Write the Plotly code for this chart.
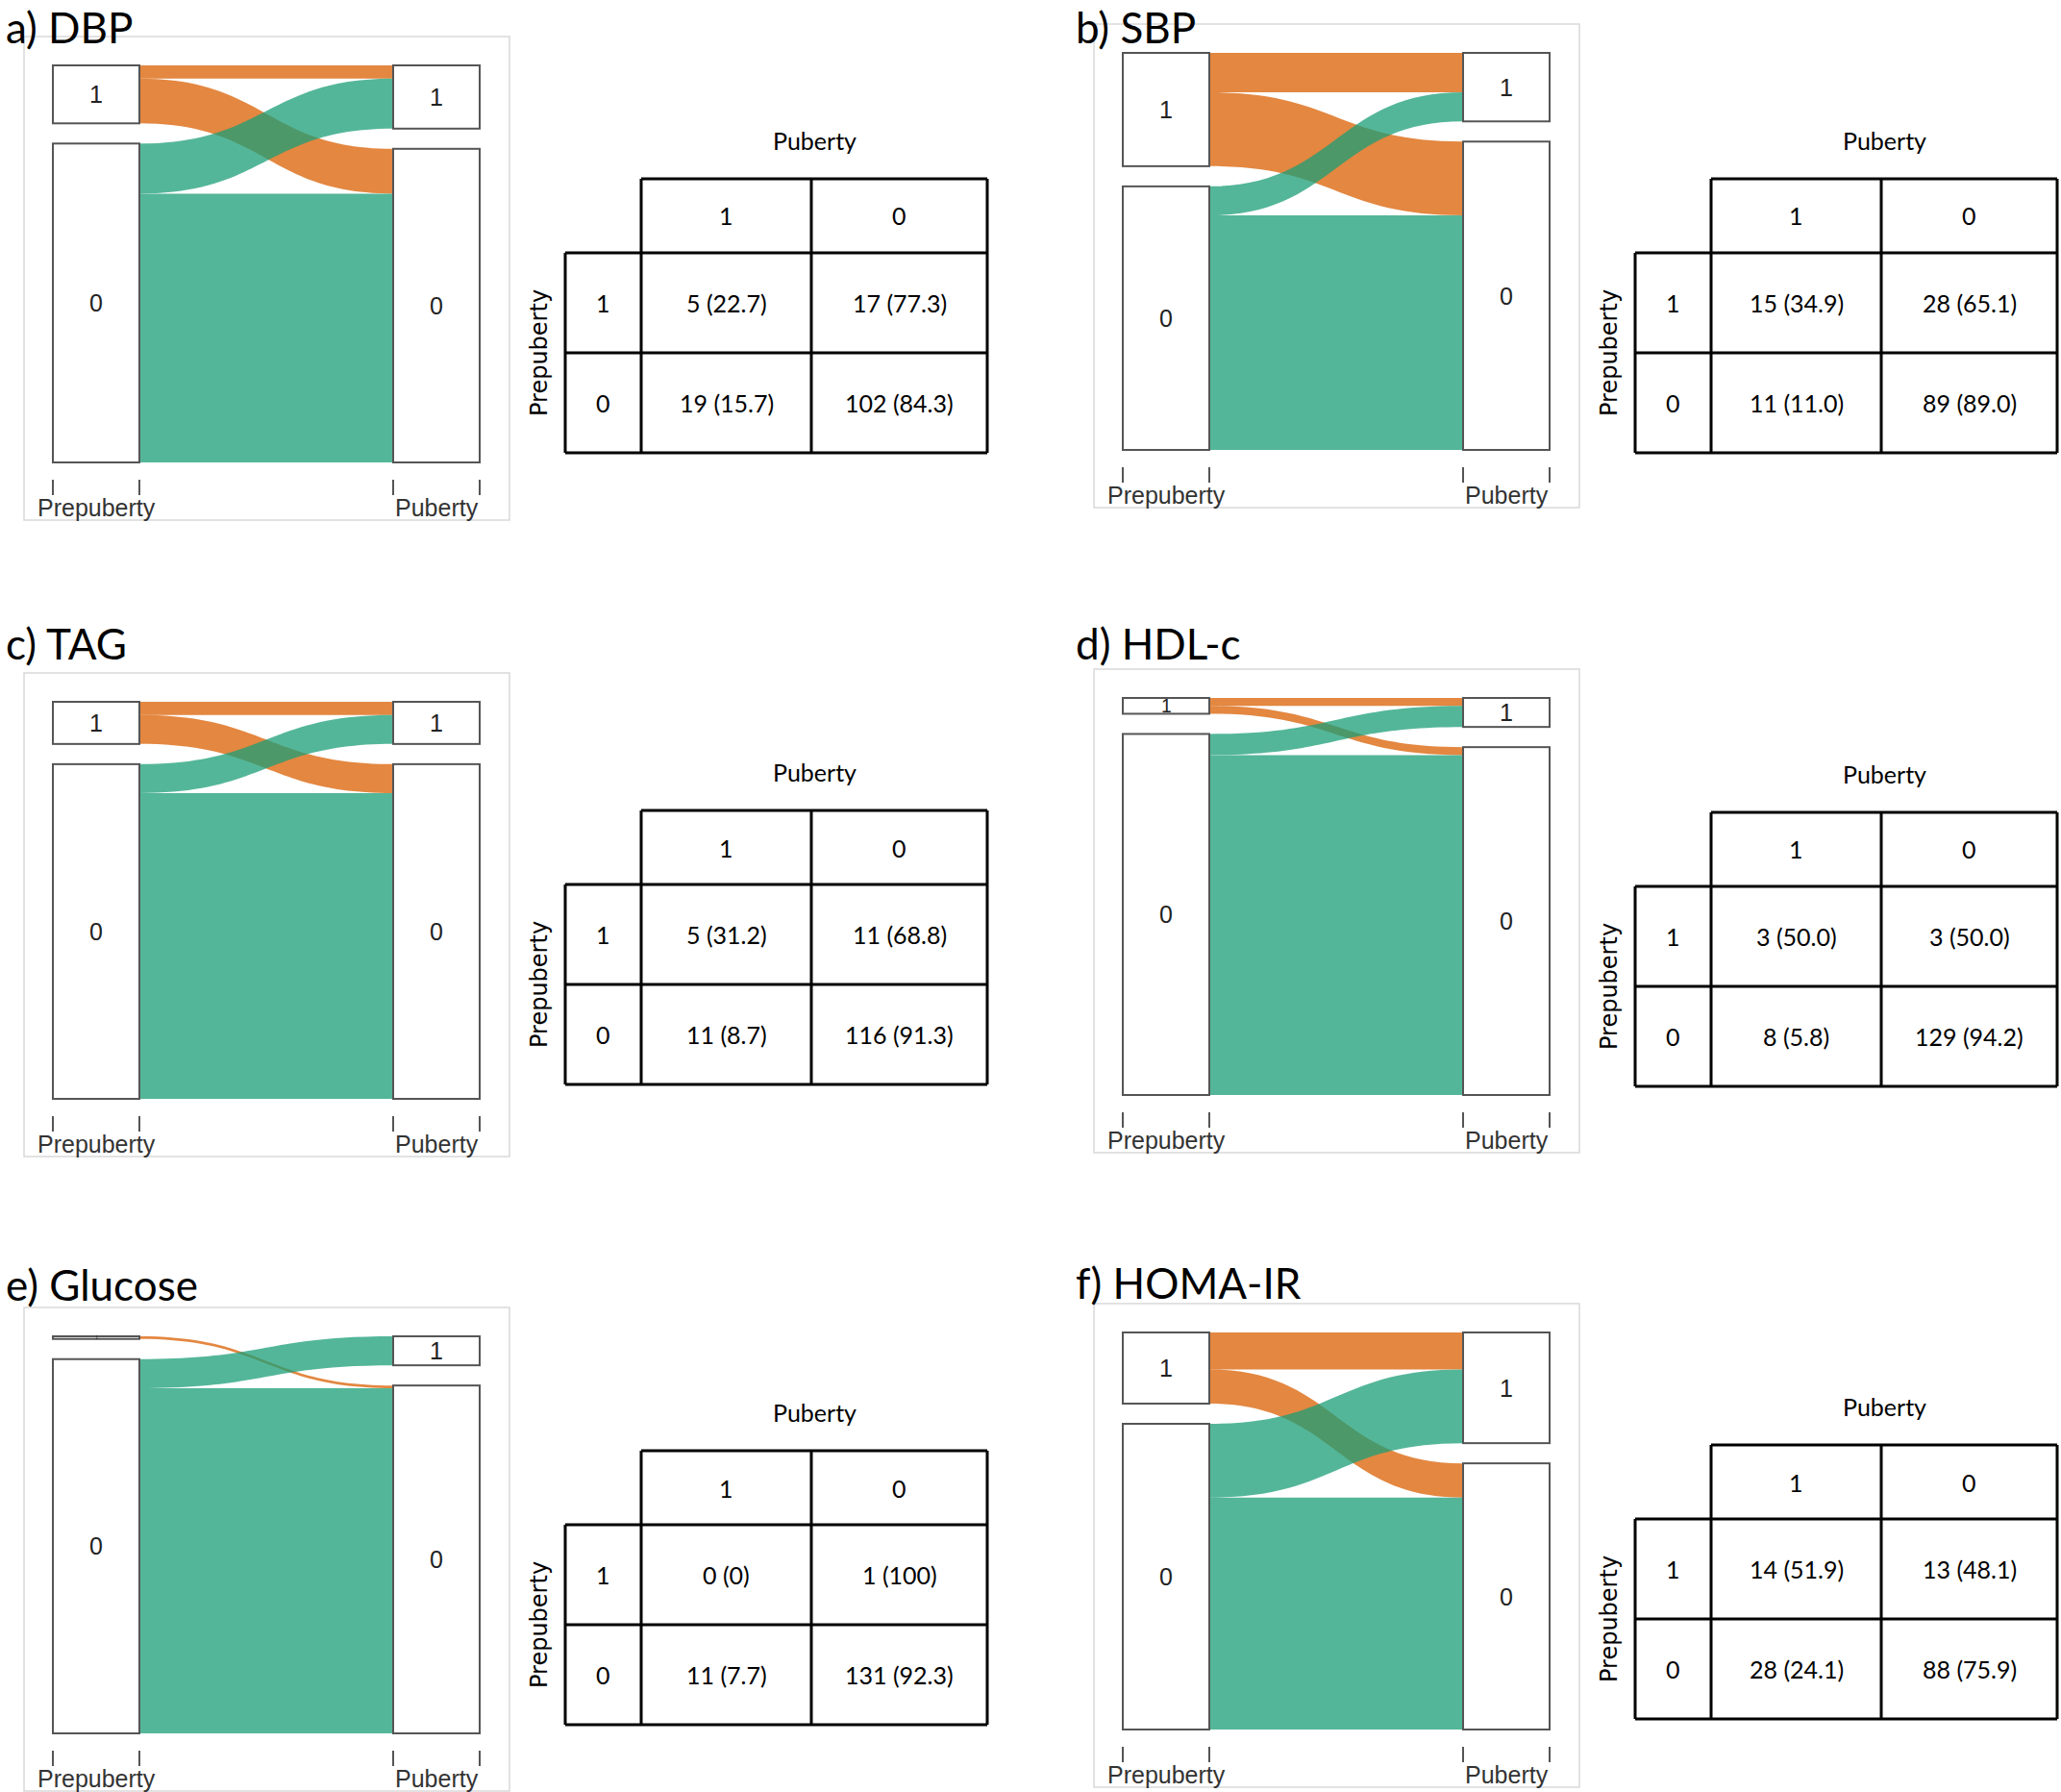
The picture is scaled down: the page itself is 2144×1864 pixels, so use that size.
import plotly.graph_objects as go

W, H = 2144, 1864

# data: rows = prepuberty 1 / 0, columns = puberty 1 / 0
titles = ["a) DBP", "b) SBP", "c) TAG", "d) HDL-c", "e) Glucose", "f) HOMA-IR"]
dbp = [[5, 17], [19, 102]]
sbp = [[15, 28], [11, 89]]
tag = [[5, 11], [11, 116]]
hdl = [[3, 3], [8, 129]]
glucose = [[0, 1], [11, 131]]
homa = [[14, 13], [28, 88]]
dbp_pct = [["22.7", "77.3"], ["15.7", "84.3"]]
sbp_pct = [["34.9", "65.1"], ["11.0", "89.0"]]
tag_pct = [["31.2", "68.8"], ["8.7", "91.3"]]
hdl_pct = [["50.0", "50.0"], ["5.8", "94.2"]]
glucose_pct = [["0", "100"], ["7.7", "92.3"]]
homa_pct = [["51.9", "48.1"], ["24.1", "75.9"]]
levels = ["1", "0"]
stages = ["Prepuberty", "Puberty"]

counts = [dbp, sbp, tag, hdl, glucose, homa]
pcts = [dbp_pct, sbp_pct, tag_pct, hdl_pct, glucose_pct, homa_pct]

# layout (pixels)
col_x = [0, 1113]
node_top = [68, 55, 730, 726, 1390, 1386]
table_top = [186, 186, 843, 845, 1509, 1503]
title_y = [28, 28, 669, 669, 1336, 1334]
SPAN = 413
THICK = 90
PAD = 21
ORANGE = "rgba(217,95,2,0.75)"
GREEN = "rgba(27,158,119,0.75)"


def px(x):
    return x / W


def py(y):
    return 1 - y / H


fig = go.Figure()
shapes = []
annos = []


def line(x0, y0, x1, y1, color="black", width=3):
    shapes.append(dict(type="line", xref="paper", yref="paper",
                       x0=px(x0), y0=py(y0), x1=px(x1), y1=py(y1),
                       line=dict(color=color, width=width)))


def text(x, y, s, size=25, font="Lato", color="black", angle=0, xanchor="center"):
    annos.append(dict(x=px(x), y=py(y), xref="paper", yref="paper", text=s,
                      showarrow=False, textangle=angle,
                      xanchor=xanchor, yanchor="middle",
                      font=dict(family=font, size=size, color=color)))


for i, (cnt, pct) in enumerate(zip(counts, pcts)):
    ox = col_x[i % 2]
    top = node_top[i]
    x0, x1 = ox + 55, ox + 499
    left = [sum(cnt[0]), sum(cnt[1])]
    right = [cnt[0][0] + cnt[1][0], cnt[0][1] + cnt[1][1]]
    ky = (SPAN - PAD) / sum(left)

    def centers(vals):
        return [vals[0] * ky / 2 / SPAN, 1 - vals[1] * ky / 2 / SPAN]

    nx = THICK / 2 / (x1 - x0)
    ys = centers(left) + centers(right)
    src, tgt, val, col = [], [], [], []
    for r in range(2):
        for c in range(2):
            if cnt[r][c] > 0:
                src.append(r)
                tgt.append(2 + c)
                val.append(cnt[r][c])
                col.append(ORANGE if r == 0 else GREEN)

    fig.add_trace(go.Sankey(
        domain=dict(x=[px(x0), px(x1)], y=[py(top + SPAN), py(top)]),
        arrangement="fixed",
        hoverinfo="none",
        node=dict(label=["", "", "", ""], pad=PAD, thickness=THICK,
                  x=[nx, nx, 1 - nx, 1 - nx], y=ys,
                  color="white", line=dict(color="#555555", width=2),
                  hoverinfo="none"),
        link=dict(source=src, target=tgt, value=val, color=col,
                  hoverinfo="none"),
    ))

    # node labels
    for k, vals in enumerate([left, right]):
        cx = ox + 100 if k == 0 else ox + 454
        cy = centers(vals)
        for j in range(2):
            h = vals[j] * ky
            text(cx, top + cy[j] * SPAN, levels[j], size=min(25, max(5, h + 3)),
                 font="Liberation Sans", color="#222222")

    # panel frame
    shapes.append(dict(type="rect", xref="paper", yref="paper",
                       x0=px(ox + 25), x1=px(ox + 530),
                       y0=py(top + 473), y1=py(top - 30),
                       line=dict(color="#d9d9d9", width=1.5), layer="below"))
    # axis ticks and labels
    for tx in [55, 145, 409, 499]:
        line(ox + tx, top + SPAN + 18, ox + tx, top + SPAN + 34, color="#555555", width=2)
    text(ox + 100, top + SPAN + 47, stages[0], size=25, font="Liberation Sans", color="#333333")
    text(ox + 454, top + SPAN + 47, stages[1], size=25, font="Liberation Sans", color="#333333")

    # title
    text(ox + 4, title_y[i], titles[i], size=44, xanchor="left")

    # table
    tx = [ox + 588, ox + 667, ox + 844, ox + 1027]
    t0 = table_top[i]
    ty = [t0, t0 + 77, t0 + 181, t0 + 285]
    line(tx[1], ty[0], tx[3], ty[0])
    for yy in ty[1:]:
        line(tx[0], yy, tx[3], yy)
    line(tx[0], ty[1], tx[0], ty[3])
    for xx in tx[1:]:
        line(xx, ty[0], xx, ty[3])
    text((tx[1] + tx[3]) / 2, t0 - 40, stages[1])
    text(tx[0] - 27, (ty[1] + ty[3]) / 2, stages[0], size=24, font="DejaVu Sans", angle=-90)
    for c in range(2):
        text((tx[c + 1] + tx[c + 2]) / 2, (ty[0] + ty[1]) / 2, levels[c])
    for r in range(2):
        ym = (ty[r + 1] + ty[r + 2]) / 2
        text((tx[0] + tx[1]) / 2, ym, levels[r])
        for c in range(2):
            text((tx[c + 1] + tx[c + 2]) / 2, ym, f"{cnt[r][c]} ({pct[r][c]})")

fig.update_layout(
    width=W, height=H,
    margin=dict(l=0, r=0, t=0, b=0),
    paper_bgcolor="white",
    plot_bgcolor="white",
    shapes=shapes,
    annotations=annos,
    showlegend=False,
)

fig.write_html("out.html", config={"displayModeBar": False},
               post_script="document.body.style.margin='0px';")
